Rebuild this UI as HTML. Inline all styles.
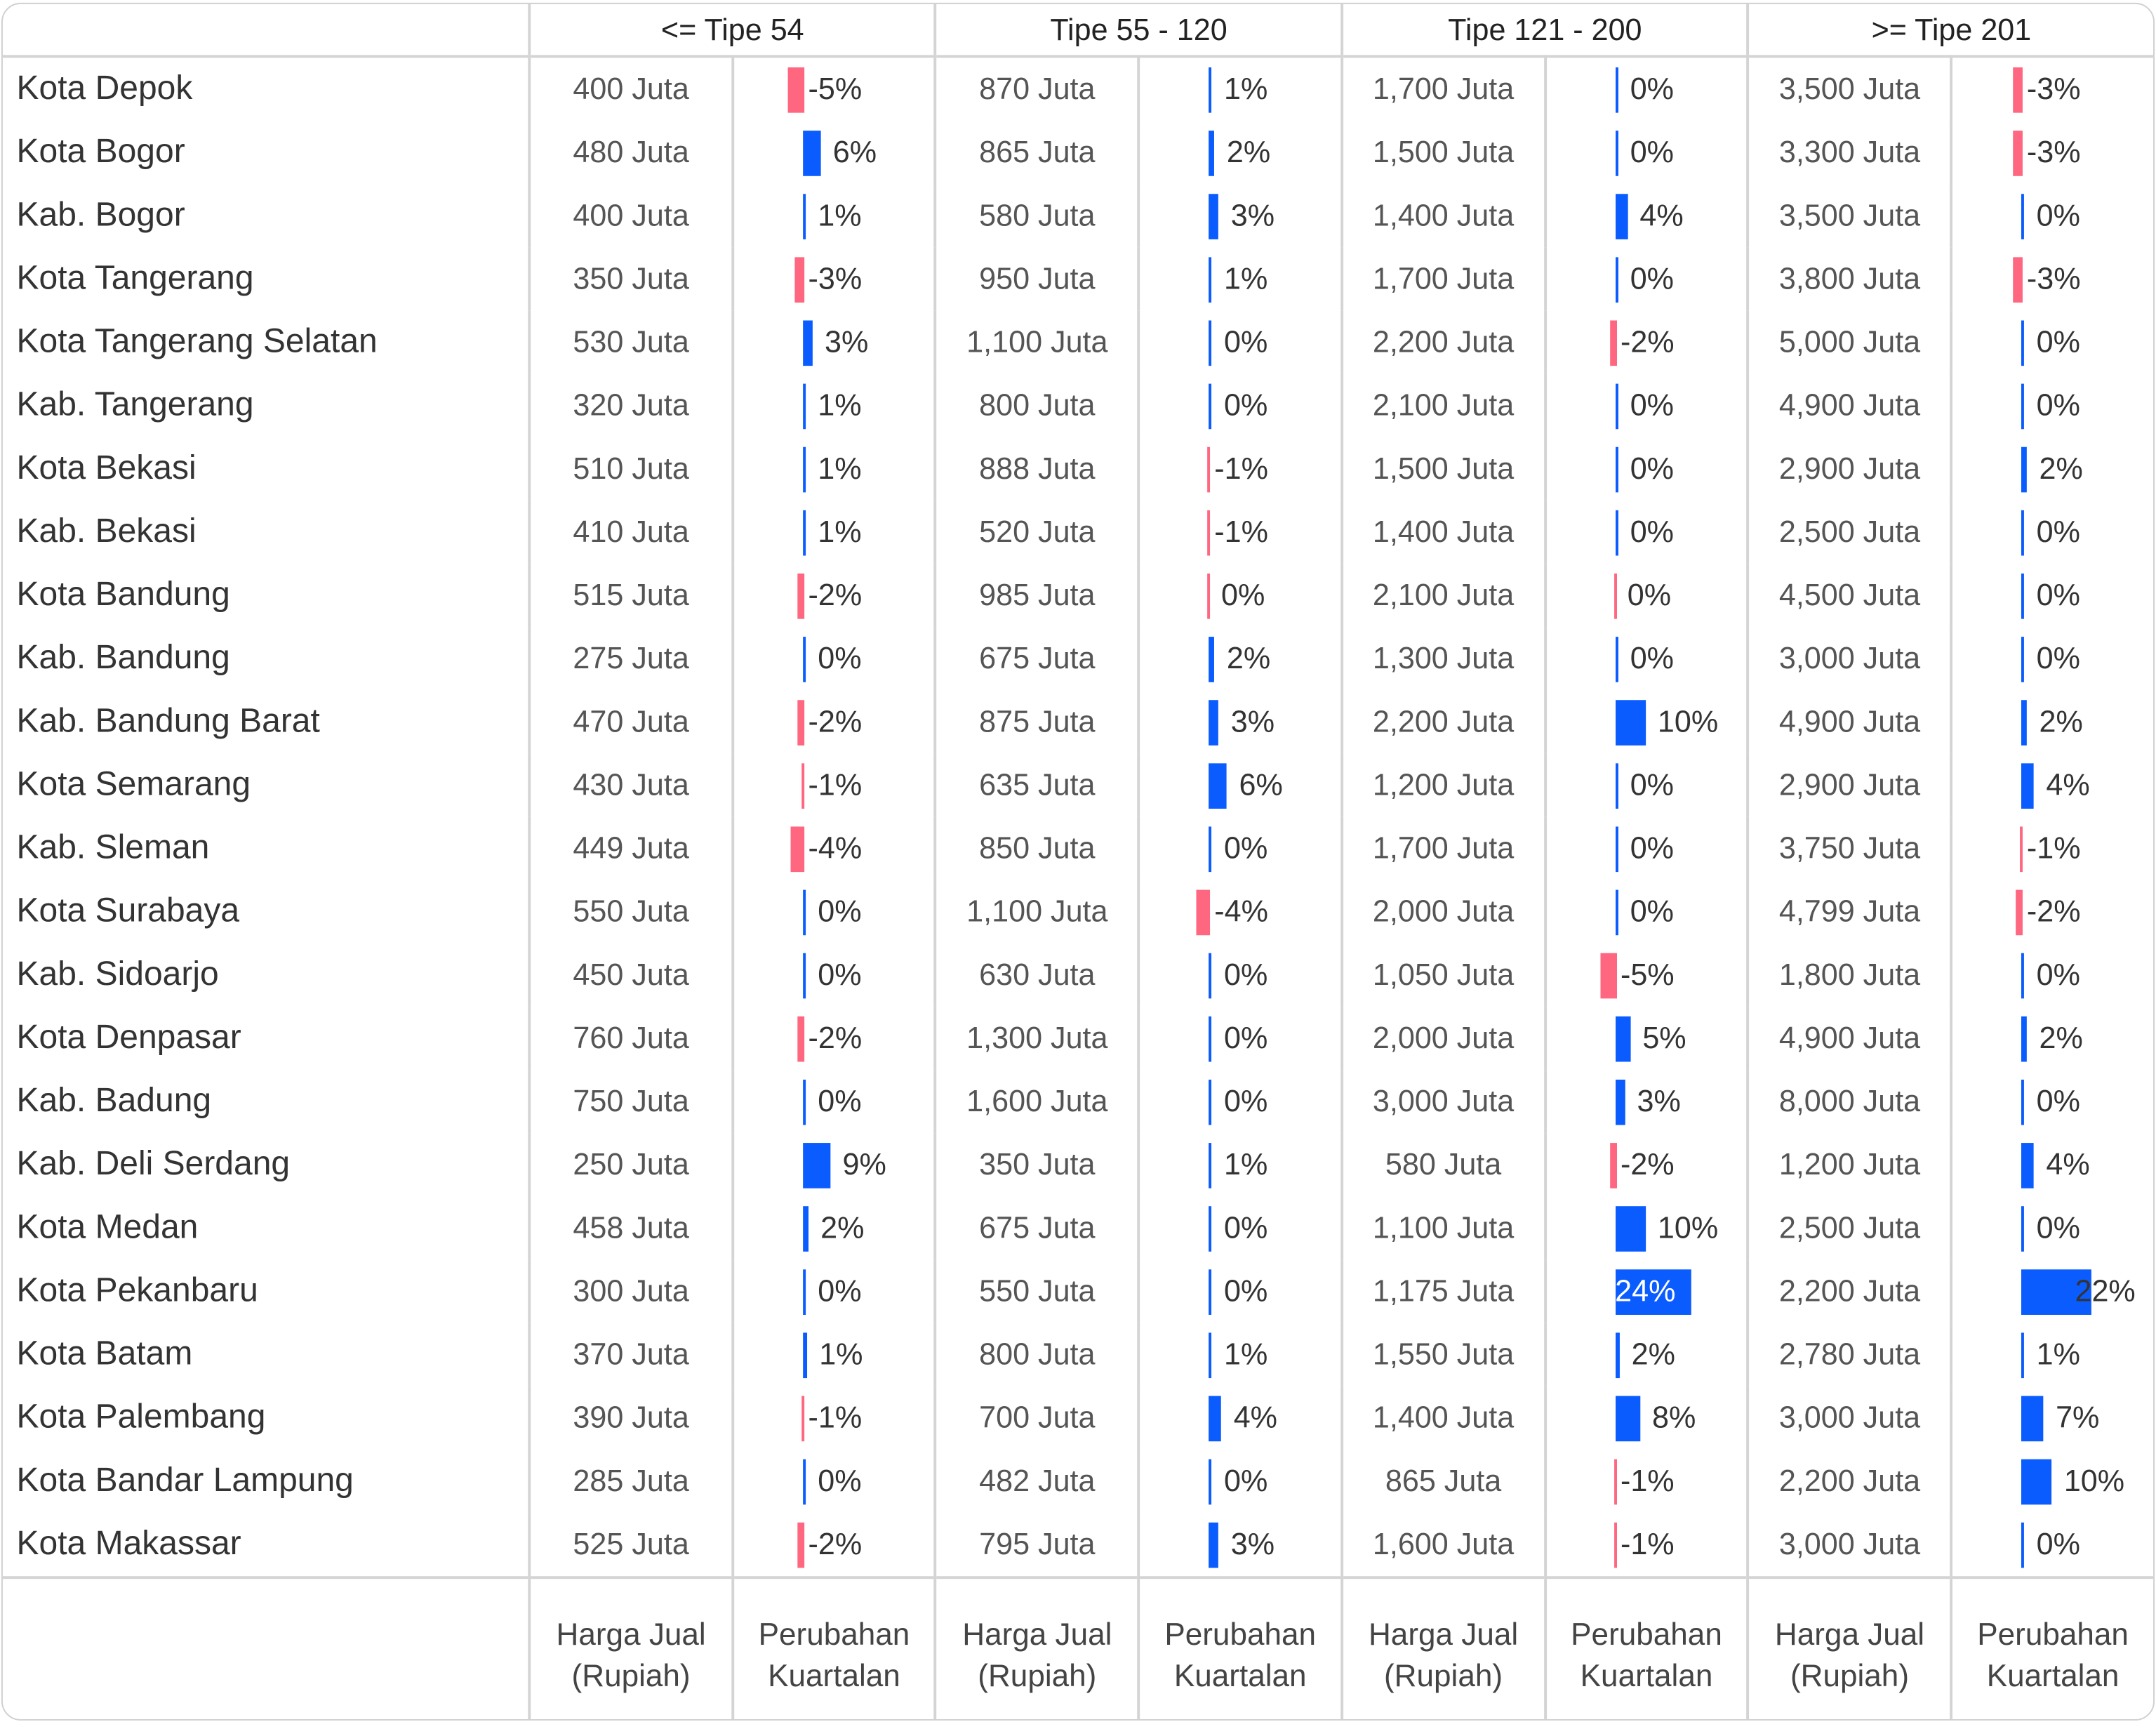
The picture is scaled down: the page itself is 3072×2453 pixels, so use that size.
<!DOCTYPE html>
<html><head><meta charset="utf-8"><style>
html,body{margin:0;padding:0;background:#fff;}
body{width:3072px;height:2453px;overflow:hidden;}
#w{position:absolute;left:0;top:0;width:1568px;height:1252px;transform:scale(1.95918);transform-origin:0 0;font-family:"Liberation Sans",sans-serif;}
#box{position:absolute;left:1px;top:2px;width:1564px;height:1247px;border:1.5px solid #d0d0d0;border-radius:14px;overflow:hidden;}
table{border-collapse:collapse;table-layout:fixed;position:absolute;left:0;top:0;}
td,th{padding:0;white-space:nowrap;overflow:visible;}
thead th{height:37px;font-size:22px;font-weight:normal;color:#222;border-bottom:2px solid #d4d4d4;border-left:2px solid #d4d4d4;text-align:center;}
thead th:first-child{border-left:none;}
tbody td,tbody th{height:46px;}
tbody th{font-size:24.5px;font-weight:normal;color:#333;text-align:left;padding-left:10px;border-right:2px solid #d4d4d4;}
td.v{font-size:22px;color:#555;text-align:center;border-right:2px solid #d4d4d4;}
td.c{font-size:22px;color:#333;border-right:2px solid #d4d4d4;}
td.c div{display:flex;align-items:center;height:46px;}
s{display:inline-block;height:33px;text-decoration:none;flex:none;}
s.p{background:#0a5cff;}
s.n{background:#ff6680;}
s.p+u{margin-left:9px;text-decoration:none;}
s.n+u{margin-left:3px;text-decoration:none;}
u{text-decoration:none;}
tfoot td{height:103px;border-top:2px solid #d4d4d4;border-right:2px solid #d4d4d4;text-align:center;font-size:22.5px;color:#444;line-height:30px;padding-top:10px;box-sizing:border-box;}
tr>*:last-child{border-right:none !important;}
</style></head><body><div id="w"><div id="box">
<table>
<colgroup><col style="width:384px"><col style="width:148px"><col style="width:148px"><col style="width:148px"><col style="width:148px"><col style="width:148px"><col style="width:148px"><col style="width:148px"><col style="width:147px"></colgroup>
<thead><tr><th></th><th colspan="2">&lt;= Tipe 54</th><th colspan="2">Tipe 55 - 120</th><th colspan="2">Tipe 121 - 200</th><th colspan="2">&gt;= Tipe 201</th></tr></thead>
<tbody>
<tr><th>Kota Depok</th><td class="v">400 Juta</td><td class="c"><div><s class="n" style="margin-left:39px;width:12px"></s><u>-5%</u></div></td><td class="v">870 Juta</td><td class="c"><div><s class="p" style="margin-left:50px;width:2px"></s><u>1%</u></div></td><td class="v">1,700 Juta</td><td class="c"><div><s class="p" style="margin-left:50px;width:2px"></s><u>0%</u></div></td><td class="v">3,500 Juta</td><td class="c"><div><s class="n" style="margin-left:44px;width:7px"></s><u>-3%</u></div></td></tr>
<tr><th>Kota Bogor</th><td class="v">480 Juta</td><td class="c"><div><s class="p" style="margin-left:50px;width:13px"></s><u>6%</u></div></td><td class="v">865 Juta</td><td class="c"><div><s class="p" style="margin-left:50px;width:4px"></s><u>2%</u></div></td><td class="v">1,500 Juta</td><td class="c"><div><s class="p" style="margin-left:50px;width:2px"></s><u>0%</u></div></td><td class="v">3,300 Juta</td><td class="c"><div><s class="n" style="margin-left:44px;width:7px"></s><u>-3%</u></div></td></tr>
<tr><th>Kab. Bogor</th><td class="v">400 Juta</td><td class="c"><div><s class="p" style="margin-left:50px;width:2px"></s><u>1%</u></div></td><td class="v">580 Juta</td><td class="c"><div><s class="p" style="margin-left:50px;width:7px"></s><u>3%</u></div></td><td class="v">1,400 Juta</td><td class="c"><div><s class="p" style="margin-left:50px;width:9px"></s><u>4%</u></div></td><td class="v">3,500 Juta</td><td class="c"><div><s class="p" style="margin-left:50px;width:2px"></s><u>0%</u></div></td></tr>
<tr><th>Kota Tangerang</th><td class="v">350 Juta</td><td class="c"><div><s class="n" style="margin-left:44px;width:7px"></s><u>-3%</u></div></td><td class="v">950 Juta</td><td class="c"><div><s class="p" style="margin-left:50px;width:2px"></s><u>1%</u></div></td><td class="v">1,700 Juta</td><td class="c"><div><s class="p" style="margin-left:50px;width:2px"></s><u>0%</u></div></td><td class="v">3,800 Juta</td><td class="c"><div><s class="n" style="margin-left:44px;width:7px"></s><u>-3%</u></div></td></tr>
<tr><th>Kota Tangerang Selatan</th><td class="v">530 Juta</td><td class="c"><div><s class="p" style="margin-left:50px;width:7px"></s><u>3%</u></div></td><td class="v">1,100 Juta</td><td class="c"><div><s class="p" style="margin-left:50px;width:2px"></s><u>0%</u></div></td><td class="v">2,200 Juta</td><td class="c"><div><s class="n" style="margin-left:46px;width:5px"></s><u>-2%</u></div></td><td class="v">5,000 Juta</td><td class="c"><div><s class="p" style="margin-left:50px;width:2px"></s><u>0%</u></div></td></tr>
<tr><th>Kab. Tangerang</th><td class="v">320 Juta</td><td class="c"><div><s class="p" style="margin-left:50px;width:2px"></s><u>1%</u></div></td><td class="v">800 Juta</td><td class="c"><div><s class="p" style="margin-left:50px;width:2px"></s><u>0%</u></div></td><td class="v">2,100 Juta</td><td class="c"><div><s class="p" style="margin-left:50px;width:2px"></s><u>0%</u></div></td><td class="v">4,900 Juta</td><td class="c"><div><s class="p" style="margin-left:50px;width:2px"></s><u>0%</u></div></td></tr>
<tr><th>Kota Bekasi</th><td class="v">510 Juta</td><td class="c"><div><s class="p" style="margin-left:50px;width:2px"></s><u>1%</u></div></td><td class="v">888 Juta</td><td class="c"><div><s class="n" style="margin-left:49px;width:2px"></s><u>-1%</u></div></td><td class="v">1,500 Juta</td><td class="c"><div><s class="p" style="margin-left:50px;width:2px"></s><u>0%</u></div></td><td class="v">2,900 Juta</td><td class="c"><div><s class="p" style="margin-left:50px;width:4px"></s><u>2%</u></div></td></tr>
<tr><th>Kab. Bekasi</th><td class="v">410 Juta</td><td class="c"><div><s class="p" style="margin-left:50px;width:2px"></s><u>1%</u></div></td><td class="v">520 Juta</td><td class="c"><div><s class="n" style="margin-left:49px;width:2px"></s><u>-1%</u></div></td><td class="v">1,400 Juta</td><td class="c"><div><s class="p" style="margin-left:50px;width:2px"></s><u>0%</u></div></td><td class="v">2,500 Juta</td><td class="c"><div><s class="p" style="margin-left:50px;width:2px"></s><u>0%</u></div></td></tr>
<tr><th>Kota Bandung</th><td class="v">515 Juta</td><td class="c"><div><s class="n" style="margin-left:46px;width:5px"></s><u>-2%</u></div></td><td class="v">985 Juta</td><td class="c"><div><s class="n" style="margin-left:49px;width:2px"></s><u style="margin-left:8px">0%</u></div></td><td class="v">2,100 Juta</td><td class="c"><div><s class="n" style="margin-left:49px;width:2px"></s><u style="margin-left:8px">0%</u></div></td><td class="v">4,500 Juta</td><td class="c"><div><s class="p" style="margin-left:50px;width:2px"></s><u>0%</u></div></td></tr>
<tr><th>Kab. Bandung</th><td class="v">275 Juta</td><td class="c"><div><s class="p" style="margin-left:50px;width:2px"></s><u>0%</u></div></td><td class="v">675 Juta</td><td class="c"><div><s class="p" style="margin-left:50px;width:4px"></s><u>2%</u></div></td><td class="v">1,300 Juta</td><td class="c"><div><s class="p" style="margin-left:50px;width:2px"></s><u>0%</u></div></td><td class="v">3,000 Juta</td><td class="c"><div><s class="p" style="margin-left:50px;width:2px"></s><u>0%</u></div></td></tr>
<tr><th>Kab. Bandung Barat</th><td class="v">470 Juta</td><td class="c"><div><s class="n" style="margin-left:46px;width:5px"></s><u>-2%</u></div></td><td class="v">875 Juta</td><td class="c"><div><s class="p" style="margin-left:50px;width:7px"></s><u>3%</u></div></td><td class="v">2,200 Juta</td><td class="c"><div><s class="p" style="margin-left:50px;width:22px"></s><u>10%</u></div></td><td class="v">4,900 Juta</td><td class="c"><div><s class="p" style="margin-left:50px;width:4px"></s><u>2%</u></div></td></tr>
<tr><th>Kota Semarang</th><td class="v">430 Juta</td><td class="c"><div><s class="n" style="margin-left:49px;width:2px"></s><u>-1%</u></div></td><td class="v">635 Juta</td><td class="c"><div><s class="p" style="margin-left:50px;width:13px"></s><u>6%</u></div></td><td class="v">1,200 Juta</td><td class="c"><div><s class="p" style="margin-left:50px;width:2px"></s><u>0%</u></div></td><td class="v">2,900 Juta</td><td class="c"><div><s class="p" style="margin-left:50px;width:9px"></s><u>4%</u></div></td></tr>
<tr><th>Kab. Sleman</th><td class="v">449 Juta</td><td class="c"><div><s class="n" style="margin-left:41px;width:10px"></s><u>-4%</u></div></td><td class="v">850 Juta</td><td class="c"><div><s class="p" style="margin-left:50px;width:2px"></s><u>0%</u></div></td><td class="v">1,700 Juta</td><td class="c"><div><s class="p" style="margin-left:50px;width:2px"></s><u>0%</u></div></td><td class="v">3,750 Juta</td><td class="c"><div><s class="n" style="margin-left:49px;width:2px"></s><u>-1%</u></div></td></tr>
<tr><th>Kota Surabaya</th><td class="v">550 Juta</td><td class="c"><div><s class="p" style="margin-left:50px;width:2px"></s><u>0%</u></div></td><td class="v">1,100 Juta</td><td class="c"><div><s class="n" style="margin-left:41px;width:10px"></s><u>-4%</u></div></td><td class="v">2,000 Juta</td><td class="c"><div><s class="p" style="margin-left:50px;width:2px"></s><u>0%</u></div></td><td class="v">4,799 Juta</td><td class="c"><div><s class="n" style="margin-left:46px;width:5px"></s><u>-2%</u></div></td></tr>
<tr><th>Kab. Sidoarjo</th><td class="v">450 Juta</td><td class="c"><div><s class="p" style="margin-left:50px;width:2px"></s><u>0%</u></div></td><td class="v">630 Juta</td><td class="c"><div><s class="p" style="margin-left:50px;width:2px"></s><u>0%</u></div></td><td class="v">1,050 Juta</td><td class="c"><div><s class="n" style="margin-left:39px;width:12px"></s><u>-5%</u></div></td><td class="v">1,800 Juta</td><td class="c"><div><s class="p" style="margin-left:50px;width:2px"></s><u>0%</u></div></td></tr>
<tr><th>Kota Denpasar</th><td class="v">760 Juta</td><td class="c"><div><s class="n" style="margin-left:46px;width:5px"></s><u>-2%</u></div></td><td class="v">1,300 Juta</td><td class="c"><div><s class="p" style="margin-left:50px;width:2px"></s><u>0%</u></div></td><td class="v">2,000 Juta</td><td class="c"><div><s class="p" style="margin-left:50px;width:11px"></s><u>5%</u></div></td><td class="v">4,900 Juta</td><td class="c"><div><s class="p" style="margin-left:50px;width:4px"></s><u>2%</u></div></td></tr>
<tr><th>Kab. Badung</th><td class="v">750 Juta</td><td class="c"><div><s class="p" style="margin-left:50px;width:2px"></s><u>0%</u></div></td><td class="v">1,600 Juta</td><td class="c"><div><s class="p" style="margin-left:50px;width:2px"></s><u>0%</u></div></td><td class="v">3,000 Juta</td><td class="c"><div><s class="p" style="margin-left:50px;width:7px"></s><u>3%</u></div></td><td class="v">8,000 Juta</td><td class="c"><div><s class="p" style="margin-left:50px;width:2px"></s><u>0%</u></div></td></tr>
<tr><th>Kab. Deli Serdang</th><td class="v">250 Juta</td><td class="c"><div><s class="p" style="margin-left:50px;width:20px"></s><u>9%</u></div></td><td class="v">350 Juta</td><td class="c"><div><s class="p" style="margin-left:50px;width:2px"></s><u>1%</u></div></td><td class="v">580 Juta</td><td class="c"><div><s class="n" style="margin-left:46px;width:5px"></s><u>-2%</u></div></td><td class="v">1,200 Juta</td><td class="c"><div><s class="p" style="margin-left:50px;width:9px"></s><u>4%</u></div></td></tr>
<tr><th>Kota Medan</th><td class="v">458 Juta</td><td class="c"><div><s class="p" style="margin-left:50px;width:4px"></s><u>2%</u></div></td><td class="v">675 Juta</td><td class="c"><div><s class="p" style="margin-left:50px;width:2px"></s><u>0%</u></div></td><td class="v">1,100 Juta</td><td class="c"><div><s class="p" style="margin-left:50px;width:22px"></s><u>10%</u></div></td><td class="v">2,500 Juta</td><td class="c"><div><s class="p" style="margin-left:50px;width:2px"></s><u>0%</u></div></td></tr>
<tr><th>Kota Pekanbaru</th><td class="v">300 Juta</td><td class="c"><div><s class="p" style="margin-left:50px;width:2px"></s><u>0%</u></div></td><td class="v">550 Juta</td><td class="c"><div><s class="p" style="margin-left:50px;width:2px"></s><u>0%</u></div></td><td class="v">1,175 Juta</td><td class="c"><div><s class="p" style="margin-left:50px;width:55px"></s><u style="margin-left:-55px;color:#fff">24%</u></div></td><td class="v">2,200 Juta</td><td class="c"><div><s class="p" style="margin-left:50px;width:51px"></s><u style="margin-left:-12px">22%</u></div></td></tr>
<tr><th>Kota Batam</th><td class="v">370 Juta</td><td class="c"><div><s class="p" style="margin-left:50px;width:3px"></s><u>1%</u></div></td><td class="v">800 Juta</td><td class="c"><div><s class="p" style="margin-left:50px;width:2px"></s><u>1%</u></div></td><td class="v">1,550 Juta</td><td class="c"><div><s class="p" style="margin-left:50px;width:3px"></s><u>2%</u></div></td><td class="v">2,780 Juta</td><td class="c"><div><s class="p" style="margin-left:50px;width:2px"></s><u>1%</u></div></td></tr>
<tr><th>Kota Palembang</th><td class="v">390 Juta</td><td class="c"><div><s class="n" style="margin-left:49px;width:2px"></s><u>-1%</u></div></td><td class="v">700 Juta</td><td class="c"><div><s class="p" style="margin-left:50px;width:9px"></s><u>4%</u></div></td><td class="v">1,400 Juta</td><td class="c"><div><s class="p" style="margin-left:50px;width:18px"></s><u>8%</u></div></td><td class="v">3,000 Juta</td><td class="c"><div><s class="p" style="margin-left:50px;width:16px"></s><u>7%</u></div></td></tr>
<tr><th>Kota Bandar Lampung</th><td class="v">285 Juta</td><td class="c"><div><s class="p" style="margin-left:50px;width:2px"></s><u>0%</u></div></td><td class="v">482 Juta</td><td class="c"><div><s class="p" style="margin-left:50px;width:2px"></s><u>0%</u></div></td><td class="v">865 Juta</td><td class="c"><div><s class="n" style="margin-left:49px;width:2px"></s><u>-1%</u></div></td><td class="v">2,200 Juta</td><td class="c"><div><s class="p" style="margin-left:50px;width:22px"></s><u>10%</u></div></td></tr>
<tr><th>Kota Makassar</th><td class="v">525 Juta</td><td class="c"><div><s class="n" style="margin-left:46px;width:5px"></s><u>-2%</u></div></td><td class="v">795 Juta</td><td class="c"><div><s class="p" style="margin-left:50px;width:7px"></s><u>3%</u></div></td><td class="v">1,600 Juta</td><td class="c"><div><s class="n" style="margin-left:49px;width:2px"></s><u>-1%</u></div></td><td class="v">3,000 Juta</td><td class="c"><div><s class="p" style="margin-left:50px;width:2px"></s><u>0%</u></div></td></tr>
</tbody>
<tfoot><tr><td></td><td>Harga Jual<br>(Rupiah)</td><td>Perubahan<br>Kuartalan</td><td>Harga Jual<br>(Rupiah)</td><td>Perubahan<br>Kuartalan</td><td>Harga Jual<br>(Rupiah)</td><td>Perubahan<br>Kuartalan</td><td>Harga Jual<br>(Rupiah)</td><td>Perubahan<br>Kuartalan</td></tr></tfoot>
</table>
</div></div></body></html>
